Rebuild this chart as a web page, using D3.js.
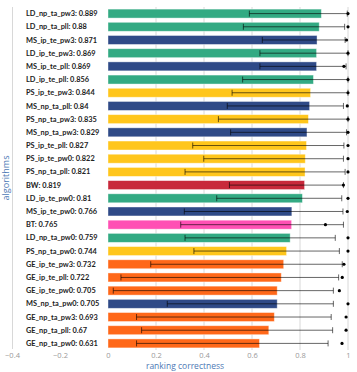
<!DOCTYPE html>
<html><head><meta charset="utf-8">
<script src="https://cdn.jsdelivr.net/npm/d3@7"></script>
<style>
html,body{margin:0;padding:0;background:#fff;}
svg{display:block;}
</style></head>
<body>
<svg id="chart" width="357" height="372"></svg>
<script>
const algorithms = ["LD_np_ta_pw3","LD_np_ta_pll","MS_ip_te_pw3","LD_ip_te_pw3","MS_ip_te_pll","LD_ip_te_pll","PS_ip_te_pw3","MS_np_ta_pll","PS_np_ta_pw3","MS_np_ta_pw3","PS_ip_te_pll","PS_ip_te_pw0","PS_np_ta_pll","BW","LD_ip_te_pw0","MS_ip_te_pw0","BT","LD_np_ta_pw0","PS_np_ta_pw0","GE_ip_te_pw3","GE_ip_te_pll","GE_ip_te_pw0","MS_np_ta_pw0","GE_np_ta_pw3","GE_np_ta_pll","GE_np_ta_pw0"];
const correctness = [0.889,0.88,0.871,0.869,0.869,0.856,0.844,0.84,0.835,0.829,0.827,0.822,0.821,0.819,0.81,0.766,0.765,0.759,0.744,0.732,0.722,0.705,0.705,0.693,0.67,0.631];
const errLow  = [0.589,0.564,0.643,0.633,0.633,0.561,0.517,0.497,0.46,0.511,0.353,0.399,0.321,0.506,0.453,0.318,0.303,0.321,0.358,0.178,0.054,0.022,0.247,0.119,0.14,0.119];
const errHigh = [0.997,0.986,0.988,1.0,0.992,1.0,1.0,0.981,1.0,0.994,0.983,0.981,0.988,0.981,0.974,0.979,0.981,0.947,0.964,0.976,0.961,0.939,0.939,0.93,0.936,0.917];
const bestScore = [1.0,1.0,0.994,1.0,0.983,1.0,1.0,0.997,1.0,1.0,1.0,1.0,1.0,0.981,1.0,0.997,0.906,1.0,1.0,0.983,0.976,0.964,1.0,0.992,0.992,0.975];
const families = ["LD","MS","PS","BW","BT","GE"];
const familyColors = ["#33aa83","#2f4a87","#ffc61c","#c8293b","#ff50b4","#ff6819"];
const xTicks = [-0.4,-0.2,0,0.2,0.4,0.6,0.8,1];
const gridTicks = [0.2,0.4,0.6,0.8,1];

const svg = d3.select("#chart");
const x = d3.scaleLinear().domain([-0.4,1]).range([12,348]);
const y = d3.scaleBand().domain(algorithms).range([7,350]).paddingInner(0.32).paddingOuter(0.16);
const color = d3.scaleOrdinal().domain(families).range(familyColors);
const fam = n => n.split("_")[0];

const rows = algorithms.map((a,i)=>({name:a,v:correctness[i],lo:errLow[i],hi:errHigh[i],best:bestScore[i]}));

// gridlines
svg.append("g").selectAll("line").data(gridTicks).join("line")
  .attr("x1",d=>x(d)).attr("x2",d=>x(d)).attr("y1",7).attr("y2",350)
  .attr("stroke","#d8d8d8").attr("stroke-width",1);
// left frame line
svg.append("line").attr("x1",x(-0.4)+0.5).attr("x2",x(-0.4)+0.5).attr("y1",7).attr("y2",349)
  .attr("stroke","#d8d8d8");

// bars
svg.append("g").selectAll("rect").data(rows).join("rect")
  .attr("x",x(0)).attr("y",d=>y(d.name))
  .attr("width",d=>x(d.v)-x(0)).attr("height",y.bandwidth())
  .attr("fill",d=>color(fam(d.name)))
  .attr("stroke","#ffffff").attr("stroke-opacity",0.5).attr("stroke-width",0.8);

// error bars
const eb = svg.append("g").attr("stroke","#000").attr("stroke-opacity",0.6).attr("stroke-width",1);
rows.forEach(d=>{
  const cy = y(d.name)+y.bandwidth()/2;
  eb.append("line").attr("x1",x(d.lo)).attr("x2",x(d.hi)).attr("y1",cy).attr("y2",cy);
  eb.append("line").attr("x1",x(d.lo)).attr("x2",x(d.lo)).attr("y1",cy-3).attr("y2",cy+3);
  eb.append("line").attr("x1",x(d.hi)).attr("x2",x(d.hi)).attr("y1",cy-3).attr("y2",cy+3);
});
// dots
svg.append("g").selectAll("circle").data(rows).join("circle")
  .attr("cx",d=>x(d.best)).attr("cy",d=>y(d.name)+y.bandwidth()/2).attr("r",1.6)
  .attr("fill","#000");

// labels
svg.append("g").selectAll("text").data(rows).join("text")
  .attr("x",26).attr("y",d=>y(d.name)+y.bandwidth()/2).attr("dy","0.35em")
  .attr("font-family","Lato, 'Open Sans', sans-serif").attr("font-weight","bold")
  .attr("font-size","7.4px").attr("fill","#222")
  .text(d=>d.name+": "+d.v);

// x axis
const xAxis = d3.axisBottom(x).tickValues(xTicks).tickSize(0).tickFormat(d3.format("~g"));
const ax = svg.append("g").attr("transform","translate(0,349)").call(xAxis);
ax.select(".domain").remove();
ax.selectAll("text").attr("font-family","'Open Sans', sans-serif").attr("font-size","7.5px")
  .attr("fill","#999").attr("dy","0.85em").text(d=>d<0?"\u2212"+Math.abs(d):d3.format("~g")(d));

svg.append("text").attr("x",185).attr("y",368.5).attr("text-anchor","middle")
  .attr("font-family","'Open Sans', sans-serif").attr("font-size","8.5px").attr("fill","#4d79b5")
  .text("ranking correctness");
svg.append("text").attr("transform","translate(9,178) rotate(-90)").attr("text-anchor","middle")
  .attr("font-family","'Open Sans', sans-serif").attr("font-size","9px").attr("fill","#4d79b5")
  .text("algorithms");
</script>
</body></html>
